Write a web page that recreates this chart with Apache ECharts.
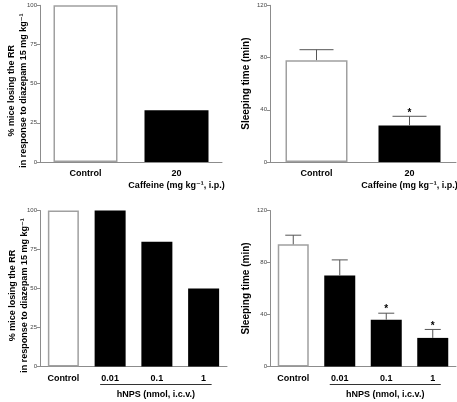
<!DOCTYPE html>
<html>
<head>
<meta charset="utf-8">
<script src="https://cdn.jsdelivr.net/npm/echarts@6/dist/echarts.min.js"></script>
<style>
html,body{margin:0;padding:0;background:#fff;}
#chart{width:457px;height:402px;}
</style>
</head>
<body>
<div id="chart"></div>
<script>
// ---- data ----
const topCategories = ['Control', '20'];
const topRR = [100, 33];
const topSleep = [78, 28];
const topSleepErr = [8, 7];
const topSleepSig = [0, 1];

const bottomCategories = ['Control', '0.01', '0.1', '1'];
const bottomRR = [100, 100, 80, 50];
const bottomSleep = [94, 70, 36, 22];
const bottomSleepErr = [7, 12, 5, 6.5];
const bottomSleepSig = [0, 0, 1, 1];

const rrTicks = [0, 25, 50, 75, 100];
const sleepTicks = [0, 40, 80, 120];

const caffeineLabel = 'Caffeine (mg kg\u207B\u00B9, i.p.)';
const hnpsLabel = 'hNPS (nmol, i.c.v.)';
const rrTitle = '% mice losing the RR\nin response to diazepam 15 mg kg\u207B\u00B9';
const sleepTitle = 'Sleeping time (min)';

// ---- styles ----
const FONT = 'Liberation Sans, Arial, DejaVu Sans, sans-serif';
const AXIS_COLOR = '#8c8c8c';

function barData(vals) {
  return vals.map((v, i) => ({
    value: v,
    itemStyle: i === 0
      ? { color: '#ffffff', borderColor: '#a0a0a0', borderWidth: 1.5 }
      : { color: '#000000', borderColor: '#000000', borderWidth: 0 }
  }));
}

function errData(vals, errs, sig) {
  return vals.map((v, i) => [i, v, errs[i], sig[i]]);
}

function errSeries(xi, vals, errs, sig, capHalf) {
  return {
    type: 'custom',
    xAxisIndex: xi, yAxisIndex: xi,
    data: errData(vals, errs, sig),
    z: 5,
    renderItem: function (params, api) {
      const idx = api.value(0), v = api.value(1), e = api.value(2), s = api.value(3);
      const p0 = api.coord([idx, v]);
      const p1 = api.coord([idx, v + e]);
      const children = [
        { type: 'line', shape: { x1: p0[0], y1: p0[1], x2: p1[0], y2: p1[1] },
          style: { stroke: '#555', lineWidth: 1 } },
        { type: 'line', shape: { x1: p1[0] - capHalf, y1: p1[1], x2: p1[0] + capHalf, y2: p1[1] },
          style: { stroke: '#555', lineWidth: 1 } }
      ];
      if (s) {
        children.push({ type: 'text', x: p1[0], y: p1[1] + 1.5,
          style: { text: '*', fill: '#000', font: 'bold 10px ' + FONT, align: 'center', verticalAlign: 'bottom' } });
      }
      return { type: 'group', children: children };
    }
  };
}

function xAxis(gi, cats, caffeine) {
  return {
    type: 'category', gridIndex: gi, data: cats,
    axisLine: { lineStyle: { color: AXIS_COLOR, width: 1 } },
    axisTick: { show: false },
    axisLabel: {
      margin: 6, interval: 0,
      formatter: function (v) {
        if (caffeine && v === '20') return '{a|20}\n{b|' + caffeineLabel + '}';
        return '{a|' + v + '}';
      },
      rich: {
        a: { fontFamily: FONT, fontWeight: 'bold', fontSize: 9, color: '#000', lineHeight: 12 },
        b: { fontFamily: FONT, fontWeight: 'bold', fontSize: 9, color: '#000', lineHeight: 12 }
      }
    }
  };
}

function yAxis(gi, max, interval, name, gap, pad) {
  return {
    type: 'value', gridIndex: gi, min: 0, max: max, interval: interval,
    name: name, nameLocation: 'middle', nameGap: gap, nameRotate: 90, nameMoveOverlap: false,
    nameTextStyle: { fontFamily: FONT, fontWeight: 'bold', fontSize: name === sleepTitle ? 10 : 9,
      color: '#000', lineHeight: 12, align: 'center', padding: pad },
    axisLine: { show: true, lineStyle: { color: AXIS_COLOR, width: 1 } },
    axisTick: { show: true, length: 3, lineStyle: { color: AXIS_COLOR } },
    axisLabel: { fontFamily: FONT, fontSize: 6, color: '#444', margin: 3 },
    splitLine: { show: false }
  };
}

const chart = echarts.init(document.getElementById('chart'), null, { renderer: 'canvas' });

const option = {
  animation: false,
  backgroundColor: '#fff',
  grid: [
    { left: 40, top: 5.3, width: 182, height: 156.7, outerBoundsMode: 'none', containLabel: false },
    { left: 270, top: 5.3, width: 186, height: 156.7, outerBoundsMode: 'none', containLabel: false },
    { left: 40, top: 210.5, width: 187, height: 156, outerBoundsMode: 'none', containLabel: false },
    { left: 270, top: 210.5, width: 186, height: 156, outerBoundsMode: 'none', containLabel: false }
  ],
  xAxis: [
    xAxis(0, topCategories, true),
    xAxis(1, topCategories, true),
    xAxis(2, bottomCategories, false),
    xAxis(3, bottomCategories, false)
  ],
  yAxis: [
    yAxis(0, 100, 25, rrTitle, 10, [0, 14, 0, 0]),
    yAxis(1, 120, 40, sleepTitle, 18, [0, 0, 0, 0]),
    yAxis(2, 100, 25, rrTitle, 9.5, [0, 14, 0, 0]),
    yAxis(3, 120, 40, sleepTitle, 17.5, [0, 0, 0, 0])
  ],
  series: [
    { type: 'bar', xAxisIndex: 0, yAxisIndex: 0, barWidth: 64, data: barData(topRR) },
    { type: 'bar', xAxisIndex: 1, yAxisIndex: 1, barWidth: 62, data: barData(topSleep) },
    errSeries(1, topSleep, topSleepErr, topSleepSig, 17),
    { type: 'bar', xAxisIndex: 2, yAxisIndex: 2, barWidth: 31, data: barData(bottomRR) },
    { type: 'bar', xAxisIndex: 3, yAxisIndex: 3, barWidth: 31, data: barData(bottomSleep) },
    errSeries(3, bottomSleep, bottomSleepErr, bottomSleepSig, 8)
  ]
};
chart.setOption(option);

// bracket + group label under the hNPS doses, positioned from the axes
const graphics = [];
[2, 3].forEach(function (xi) {
  const xa = chart.convertToPixel({ xAxisIndex: xi }, bottomCategories[1]);
  const xb = chart.convertToPixel({ xAxisIndex: xi }, bottomCategories[3]);
  const y0 = chart.convertToPixel({ yAxisIndex: xi }, 0);
  const x1 = xa - 10, x2 = xb + 8;
  graphics.push({ type: 'line', shape: { x1: x1, y1: y0 + 18, x2: x2, y2: y0 + 18 },
    style: { stroke: '#333', lineWidth: 1 }, silent: true });
  graphics.push({ type: 'text', x: (x1 + x2) / 2, y: y0 + 28.5,
    style: { text: hnpsLabel, font: 'bold 9px ' + FONT, fill: '#000', align: 'center', verticalAlign: 'middle' },
    silent: true });
});
chart.setOption({ graphic: graphics });
</script>
</body>
</html>
